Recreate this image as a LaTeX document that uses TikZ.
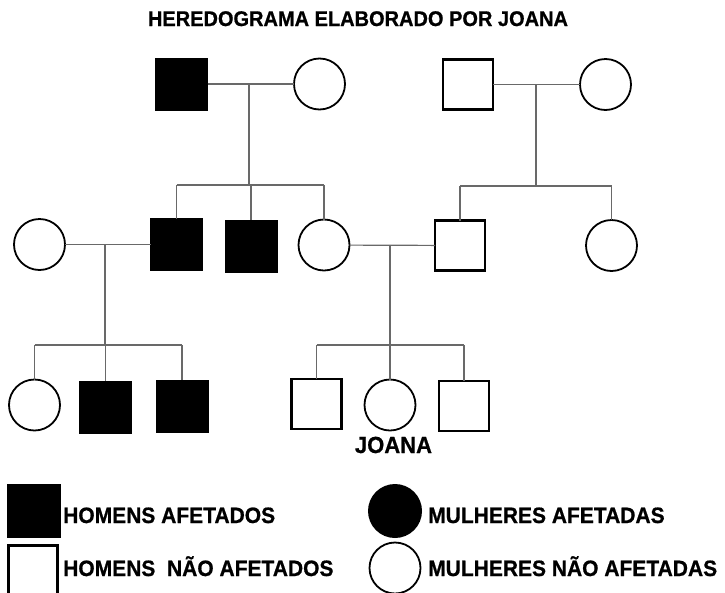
\documentclass[tikz,border=0pt]{standalone}
\usepackage{fontspec}
\setmainfont{Liberation Sans}
\newfontfamily\heavyfont[FakeBold=0.8]{Liberation Sans Bold}
\definecolor{linkgray}{RGB}{105,105,105}
\newcommand{\tallbox}[1]{\scalebox{1}[1.06]{#1}}
\begin{document}
\begin{tikzpicture}[x=1pt,y=-1pt,
  male/.style={rectangle,draw=black,line width=2.6pt,minimum size=50pt,inner sep=0pt,outer sep=0pt},
  maleaff/.style={rectangle,draw=black,fill=black,line width=1pt,minimum size=52pt,inner sep=0pt,outer sep=0pt},
  female/.style={circle,draw=black,line width=1.8pt,minimum size=51pt,inner sep=0pt,outer sep=0pt},
  link/.style={draw=linkgray,line width=1.2pt},
  lbl/.style={font=\fontsize{21}{24}\selectfont\heavyfont,anchor=base west,inner sep=0pt}]
\useasboundingbox (0,0) rectangle (725,592);

% title
\node[anchor=base,inner sep=0pt,font=\fontsize{20}{24}\selectfont\heavyfont] (title) at (358,26) {\tallbox{HEREDOGRAMA ELABORADO POR JOANA}};

% generation 1
\node[maleaff] (g1m) at (181.5,84) {};
\node[female] (g1f) at (319.5,84) {};
\node[male] (g1m2) at (468,84.5) {};
\node[female] (g1f2) at (605.5,84.5) {};

% generation 2
\node[female] (a) at (39.5,244.5) {};
\node[maleaff] (b) at (176.5,244.5) {};
\node[maleaff] (c) at (251,246) {};
\node[female] (d) at (324,245) {};
\node[male] (e) at (460,245.5) {};
\node[female] (f) at (611.5,245.5) {};

% generation 3
\node[female] (h1) at (34.5,405) {};
\node[maleaff] (h2) at (105.5,407) {};
\node[maleaff] (h3) at (182,406) {};
\node[male] (h4) at (316.5,404) {};
\node[female] (h5) at (390,405) {};
\node[male] (h6) at (464,406) {};

\node[anchor=base,inner sep=0pt,font=\fontsize{22}{24}\selectfont\heavyfont] (joana) at (393.5,453) {\tallbox{JOANA}};

% junctions
\coordinate (j1) at (249,84);
\coordinate (s1) at (249,185);
\coordinate (j2) at (536,84.5);
\coordinate (s2) at (536,186);
\coordinate (j3) at (105,244.5);
\coordinate (s3) at (105,345);
\coordinate (j4) at (390,245);
\coordinate (s4) at (390,345);

% family 1
\draw[link] (g1m) -- (g1f);
\draw[link] (j1) -- (s1);
\draw[link] (b |- s1) -- (d |- s1);
\draw[link] (b |- s1) -- (b);
\draw[link] (c |- s1) -- (c);
\draw[link] (d |- s1) -- (d);

% family 2
\draw[link] (g1m2) -- (g1f2);
\draw[link] (j2) -- (s2);
\draw[link] (e |- s2) -- (f |- s2);
\draw[link] (e |- s2) -- (e);
\draw[link] (f |- s2) -- (f);

% family 3
\draw[link] (a) -- (b);
\draw[link] (j3) -- (s3);
\draw[link] (h1 |- s3) -- (h3 |- s3);
\draw[link] (h1 |- s3) -- (h1);
\draw[link] (h2 |- s3) -- (h2);
\draw[link] (h3 |- s3) -- (h3);

% family 4
\draw[link] (d) -- (e);
\draw[link] (j4) -- (s4);
\draw[link] (h4 |- s4) -- (h6 |- s4);
\draw[link] (h4 |- s4) -- (h4);
\draw[link] (h5 |- s4) -- (h5);
\draw[link] (h6 |- s4) -- (h6);

% legend
\node[rectangle,fill=black,minimum size=54pt,inner sep=0pt,outer sep=0pt] (lg1) at (34,511) {};
\node[male,minimum size=49pt] (lg2) at (33,570) {};
\node[circle,fill=black,minimum size=54pt,inner sep=0pt] (lg3) at (395,511) {};
\node[female] (lg4) at (395,568) {};
\node[lbl] (t1) at (63,523) {\tallbox{HOMENS AFETADOS}};
\node[lbl] (t2) at (63,576) {\tallbox{HOMENS\ \ NÃO AFETADOS}};
\node[lbl] (t3) at (428,523) {\tallbox{MULHERES AFETADAS}};
\node[lbl] (t4) at (428,576) {\tallbox{MULHERES NÃO AFETADAS}};
\end{tikzpicture}
\end{document}
